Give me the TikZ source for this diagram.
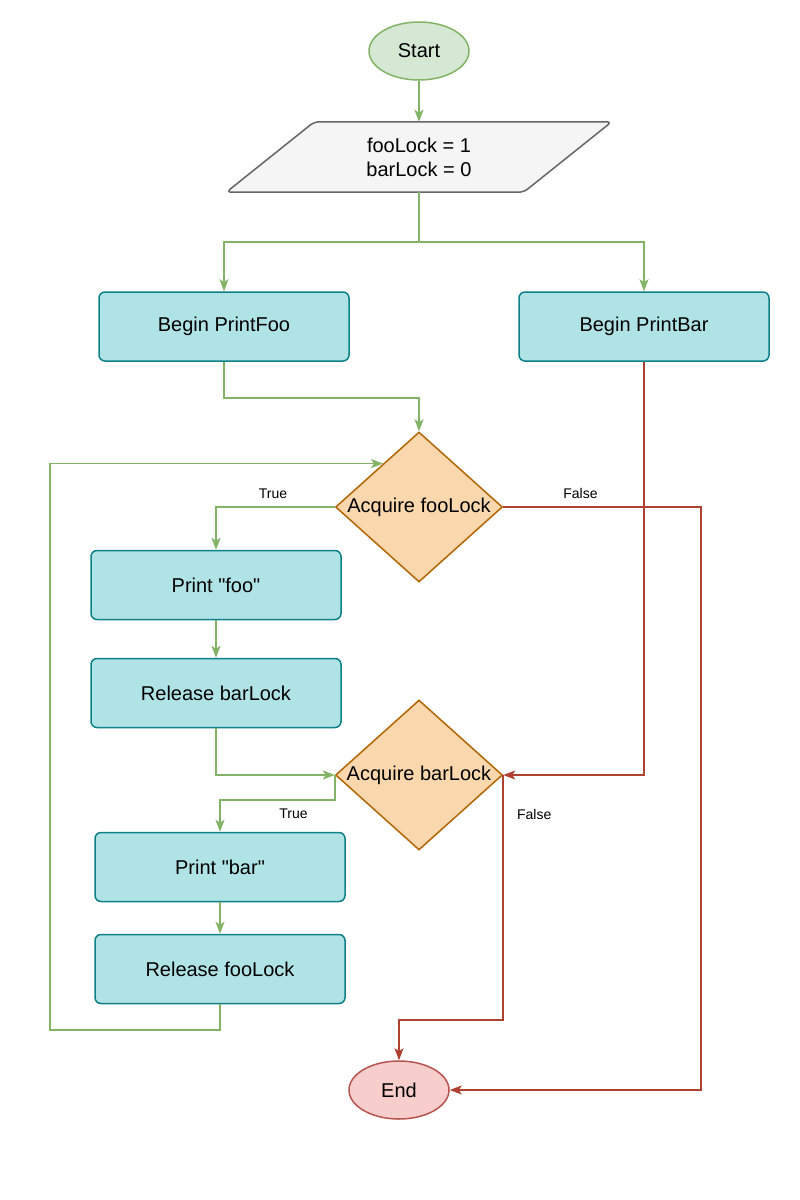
\documentclass[tikz,border=0pt]{standalone}
\usepackage{fontspec}
\setmainfont{Liberation Sans}[Ligatures=TeXOff]
\usepackage{tikz}
\usetikzlibrary{arrows.meta,calc,shapes.geometric,backgrounds}
\definecolor{okline}{HTML}{82B366}
\definecolor{okfill}{HTML}{D5E8D4}
\definecolor{badline}{HTML}{AE4132}
\definecolor{enddraw}{HTML}{B85450}
\definecolor{endfill}{HTML}{F8CECC}
\definecolor{tealfill}{HTML}{B0E3E6}
\definecolor{tealdraw}{HTML}{0E8088}
\definecolor{orfill}{HTML}{FAD7AC}
\definecolor{ordraw}{HTML}{B46504}
\definecolor{iofill}{HTML}{F5F5F5}
\definecolor{iodraw}{HTML}{666666}

\begin{document}
\begin{tikzpicture}[x=1pt,y=-1pt,>={Stealth[length=12pt,width=9pt,inset=3pt]},
  every node/.style={font=\fontsize{20}{24}\selectfont,inner sep=0pt},
  term/.style={ellipse,draw,line width=1.5pt,minimum width=100pt,minimum height=58pt},
  procbox/.style={rectangle,rounded corners=6pt,draw=tealdraw,fill=tealfill,line width=1.5pt,minimum width=250pt,minimum height=69pt},
  decide/.style={diamond,aspect=1.113,inner sep=-4pt,draw=ordraw,fill=orfill,line width=1.5pt,minimum width=167pt,minimum height=150pt},
  yes/.style={->,okline,line width=1.7pt},
  no/.style={->,badline,line width=1.7pt},
  tag/.style={text=black,font=\fontsize{14}{16}\selectfont}]
  \useasboundingbox (0,0) rectangle (800,1200);
  \node[term,draw=okline,fill=okfill] (start) at (419,51) {Start};
  \node[minimum width=385pt,minimum height=70pt,align=center] (init) at (419,157) {fooLock = 1\\barLock = 0};
  \begin{scope}[on background layer]
    \fill[white] (0,0) rectangle (800,1200);
    \draw[draw=iodraw,fill=iofill,line width=1.5pt,rounded corners=5pt]
      ($(init.north west)+(88,0)$) -- (init.north east) -- ($(init.south east)-(88,0)$) -- (init.south west) -- cycle;
  \end{scope}
  \node[procbox] (pfoo) at (224,326.5) {Begin PrintFoo};
  \node[procbox] (pbar) at (644,326.5) {Begin PrintBar};
  \node[decide] (fooq) at (419,507) {Acquire fooLock};
  \node[procbox] (prfoo) at (216,585) {Print "foo"};
  \node[procbox] (relbar) at (216,693) {Release barLock};
  \node[decide] (barq) at (419,775) {Acquire barLock};
  \node[procbox] (prbar) at (220,867) {Print "bar"};
  \node[procbox] (relfoo) at (220,969) {Release fooLock};
  \node[term,draw=enddraw,fill=endfill] (end) at (399,1090) {End};
  \coordinate (loopin) at ($(fooq.west)!0.5733!(fooq.north)$);

  \draw[yes] (start) -- (init);
  \draw[yes] (init.south) -- ++(0,50) -| (pfoo.north);
  \draw[yes] (init.south) -- ++(0,50) -| (pbar.north);
  \draw[yes] (pfoo.south) -- ++(0,36) -| (fooq.north);
  \draw[yes] (fooq.west) -| (prfoo.north) node[tag,pos=0.26,above=8pt] {True};
  \draw[yes] (prfoo) -- (relbar);
  \draw[yes] (relbar.south) |- (barq.west);
  \draw[yes] (barq.west) -- ++(0,25) -| (prbar.north) node[tag,pos=0.18,below=8pt] {True};
  \draw[yes] (prbar) -- (relfoo);
  \draw[yes] (relfoo.south) -- ++(0,26) -| ($(loopin)-(333,0)$) -- (loopin);
  \draw[no] (fooq.east) -- node[tag,pos=0.39,above=8pt] {False} ++(198,0) |- (end.east);
  \draw[no] (pbar.south) |- (barq.east);
  \draw[no] (barq.east) -- node[tag,pos=0.16,right=13pt] {False} ++(0,245) -| (end.north);
\end{tikzpicture}
\end{document}
